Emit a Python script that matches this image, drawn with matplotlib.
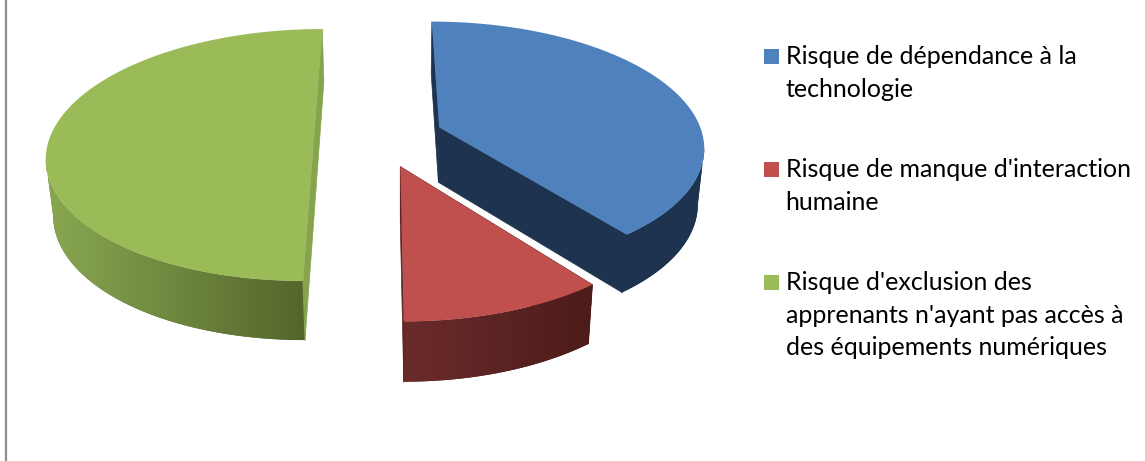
import numpy as np
import matplotlib
matplotlib.use("Agg")
import matplotlib.pyplot as plt
from matplotlib.colors import LinearSegmentedColormap
from matplotlib.patches import Polygon, Rectangle

# values (percent)
labels = ["Risque de dépendance à la\ntechnologie",
          "Risque de manque d'interaction\nhumaine",
          "Risque d'exclusion des\napprenants n'ayant pas accès à\ndes équipements numériques"]
values = [39.5, 10.5, 50]
top_colors = ["#4f81bd", "#c0504d", "#9bbb59"]
side_colors = ["#1e334f", "#5c2423", "#86a44e"]
wall_left = ["#1e334f", "#6b2b2b", "#89a851"]
wall_right = ["#1e334f", "#4c1c1a", "#54652b"]
legend_y = [56.5, 169.5, 282.5]

# pie plane -> picture: a simple perspective, the pie is seen from above
explode = 0.245
center = (-0.005, 0.0)
x0, y0 = 380.0, 137.0
rx, ry = 264.0, 123.4
k = 0.143


def project(px, py):
    w = 1 - k * py
    return x0 + rx * px / w, y0 + ry * py / w


def lower(x, y):
    # same point on the bottom rim of the pie
    return 400 + (x - 400) * 0.979, y + 51.5 + 0.027 * y


def front_part(x, y, front):
    # visible stretch of a rim: front half, cut at its left and right extremes
    x, y = x[front], y[front]
    a, b = sorted([np.argmin(x), np.argmax(x)])
    return x[a:b + 1], y[a:b + 1]


fig = plt.figure(figsize=(11.45, 4.61), dpi=100)
ax = fig.add_axes([0, 0, 1, 1])
ax.set_xlim(0, 1145)
ax.set_ylim(461, 0)
ax.axis("off")

ax.plot([5.7, 5.7], [0, 461], color="#8f8f8f", lw=1.6)

start = 0.0
total = sum(values)
for i, v in enumerate(values):
    a1 = start
    a2 = start + 360.0 * v / total
    start = a2
    mid = np.radians((a1 + a2) / 2)
    ox = center[0] + explode * np.sin(mid)
    oy = center[1] - explode * np.cos(mid)
    t = np.radians(np.linspace(a1, a2, 300))
    arc_x, arc_y = project(ox + np.sin(t), oy - np.cos(t))
    ax_x, ax_y = project(ox, oy)
    low_x, low_y = lower(arc_x, arc_y)
    tip_x, tip_y = lower(ax_x, ax_y)

    # two cut faces
    for ex, ey, lx, ly in [(arc_x[0], arc_y[0], low_x[0], low_y[0]),
                           (arc_x[-1], arc_y[-1], low_x[-1], low_y[-1])]:
        ax.add_patch(Polygon([(ax_x, ax_y), (ex, ey), (lx, ly), (tip_x, tip_y)],
                             closed=True, fc=side_colors[i], ec=side_colors[i], lw=0.5, zorder=2))

    # outer wall with its left to right shading
    front = -np.cos(t) > -0.3
    tx, ty = front_part(arc_x, arc_y, front)
    bx, by = front_part(low_x, low_y, front)
    wall = np.column_stack([np.r_[tx, bx[::-1]], np.r_[ty, by[::-1]]])
    patch = Polygon(wall, closed=True, fc=wall_right[i], ec="none", transform=ax.transData, zorder=3)
    ax.add_patch(patch)
    cmap = LinearSegmentedColormap.from_list("w", [wall_left[i], wall_right[i]])
    im = ax.imshow(np.linspace(0, 1, 256).reshape(1, -1), cmap=cmap, aspect="auto",
                   extent=[wall[:, 0].min(), wall[:, 0].max(), wall[:, 1].max(), wall[:, 1].min()],
                   zorder=3.1, interpolation="bilinear")
    im.set_clip_path(patch)

    # hide the seam between the wall and the cut face nearest to us
    n = 0 if arc_y[0] > arc_y[-1] else -1
    ax.plot([arc_x[n], low_x[n]], [arc_y[n], low_y[n]], color=side_colors[i], lw=0.8, zorder=3.2)

    top = np.column_stack([np.r_[ax_x, arc_x], np.r_[ax_y, arc_y]])
    ax.add_patch(Polygon(top, closed=True, fc=top_colors[i], ec="none", zorder=4))

    ax.add_patch(Rectangle((764, legend_y[i] - 7.5), 15, 15, fc=top_colors[i], ec="none"))
    ax.text(785.5, legend_y[i] - 11.5, labels[i], family="Lato", fontsize=18, color="#000000",
            va="top", ha="left", linespacing=1.51)

ax.set_xlim(0, 1145)
ax.set_ylim(461, 0)
fig.savefig("out.png", dpi=100, facecolor="white")
